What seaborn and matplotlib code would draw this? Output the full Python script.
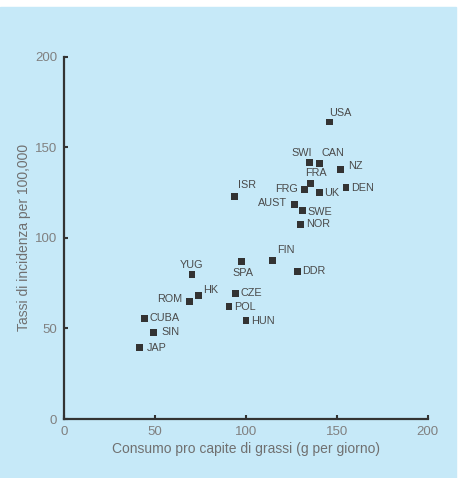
import matplotlib
matplotlib.use("Agg")
import matplotlib.pyplot as plt
import seaborn as sns
import pandas as pd

# consumo di grassi (g/giorno) vs tassi di incidenza per 100,000
paesi = ["USA", "SWI", "CAN", "NZ", "FRA", "FRG", "UK", "DEN", "ISR", "AUST",
         "SWE", "NOR", "SPA", "FIN", "DDR", "YUG", "HK", "ROM", "CZE", "POL",
         "HUN", "CUBA", "SIN", "JAP"]
grassi = [146, 135, 140.5, 152, 135.7, 132, 140.3, 155, 93.6, 126.7,
          131, 130, 97.4, 114.5, 128.4, 70.3, 73.8, 68.7, 94.1, 90.7,
          100, 44, 48.9, 41.2]
incidenza = [164, 141.4, 141, 137.6, 129.8, 126.7, 125.2, 127.6, 122.8, 118.6,
             115, 107.5, 87.1, 87.5, 81.6, 79.6, 68, 64.8, 69.4, 62,
             54.3, 55.6, 47.9, 39.4]

# label offsets in pixels (dx, dy, horizontal alignment)
offsets = {
    "USA": (0, 9, "left"), "SWI": (-8, 10, "center"), "CAN": (13, 11, "center"),
    "NZ": (8, 4, "left"), "FRA": (5, 11, "center"), "FRG": (-6, 0, "right"),
    "UK": (5, -1, "left"), "DEN": (5, 0, "left"), "ISR": (4, 12, "left"),
    "AUST": (-7, 1, "right"), "SWE": (5, -1, "left"), "NOR": (6, 0, "left"),
    "SPA": (2, -12, "center"), "FIN": (5, 10, "left"), "DDR": (5, 0, "left"),
    "YUG": (0, 10, "center"), "HK": (5, 6, "left"), "ROM": (-7, 3, "right"),
    "CZE": (5, 0, "left"), "POL": (5, 0, "left"), "HUN": (5, 0, "left"),
    "CUBA": (5, 0, "left"), "SIN": (8, 0, "left"), "JAP": (8, 0, "left"),
}

df = pd.DataFrame({"paese": paesi, "grassi": grassi, "incidenza": incidenza})

sns.set_style("ticks")
plt.rcParams["font.family"] = ["Liberation Sans", "DejaVu Sans"]

bg = "#c6e9f8"
fig = plt.figure(figsize=(4.58, 4.78), dpi=100, facecolor="white")
fig.patches.append(plt.Rectangle((0, 0), 456 / 458, 1 - 7 / 478,
                                 transform=fig.transFigure, color=bg, zorder=-10))
ax = fig.add_axes([0.1404, 0.1234, 0.7934, 0.758])
ax.set_facecolor("none")

sns.scatterplot(data=df, x="grassi", y="incidenza", marker="s", s=24,
                color="#333333", edgecolor="none", ax=ax, clip_on=False)

for p, x, y in zip(paesi, grassi, incidenza):
    dx, dy, ha = offsets[p]
    ax.annotate(p, (x, y), xytext=(dx * 0.72, dy * 0.72), textcoords="offset points",
                ha=ha, va="center", fontsize=7.8, color="#4a4a4a")

ax.set_xlim(0, 200)
ax.set_ylim(0, 200)
ax.set_xticks([0, 50, 100, 150, 200])
ax.set_yticks([0, 50, 100, 150, 200])
ax.tick_params(direction="in", length=3, width=1.5, color="#333333",
               labelsize=9.5, labelcolor="#808080", pad=5)
for s in ["top", "right"]:
    ax.spines[s].set_visible(False)
for s in ["left", "bottom"]:
    ax.spines[s].set_color("#333333")
    ax.spines[s].set_linewidth(1.6)

ax.set_xlabel("Consumo pro capite di grassi (g per giorno)", fontsize=10,
              color="#707070", labelpad=3)
ax.set_ylabel("Tassi di incidenza per 100,000", fontsize=10,
              color="#707070", labelpad=3)

fig.savefig("out.png", dpi=100, facecolor=fig.get_facecolor())
